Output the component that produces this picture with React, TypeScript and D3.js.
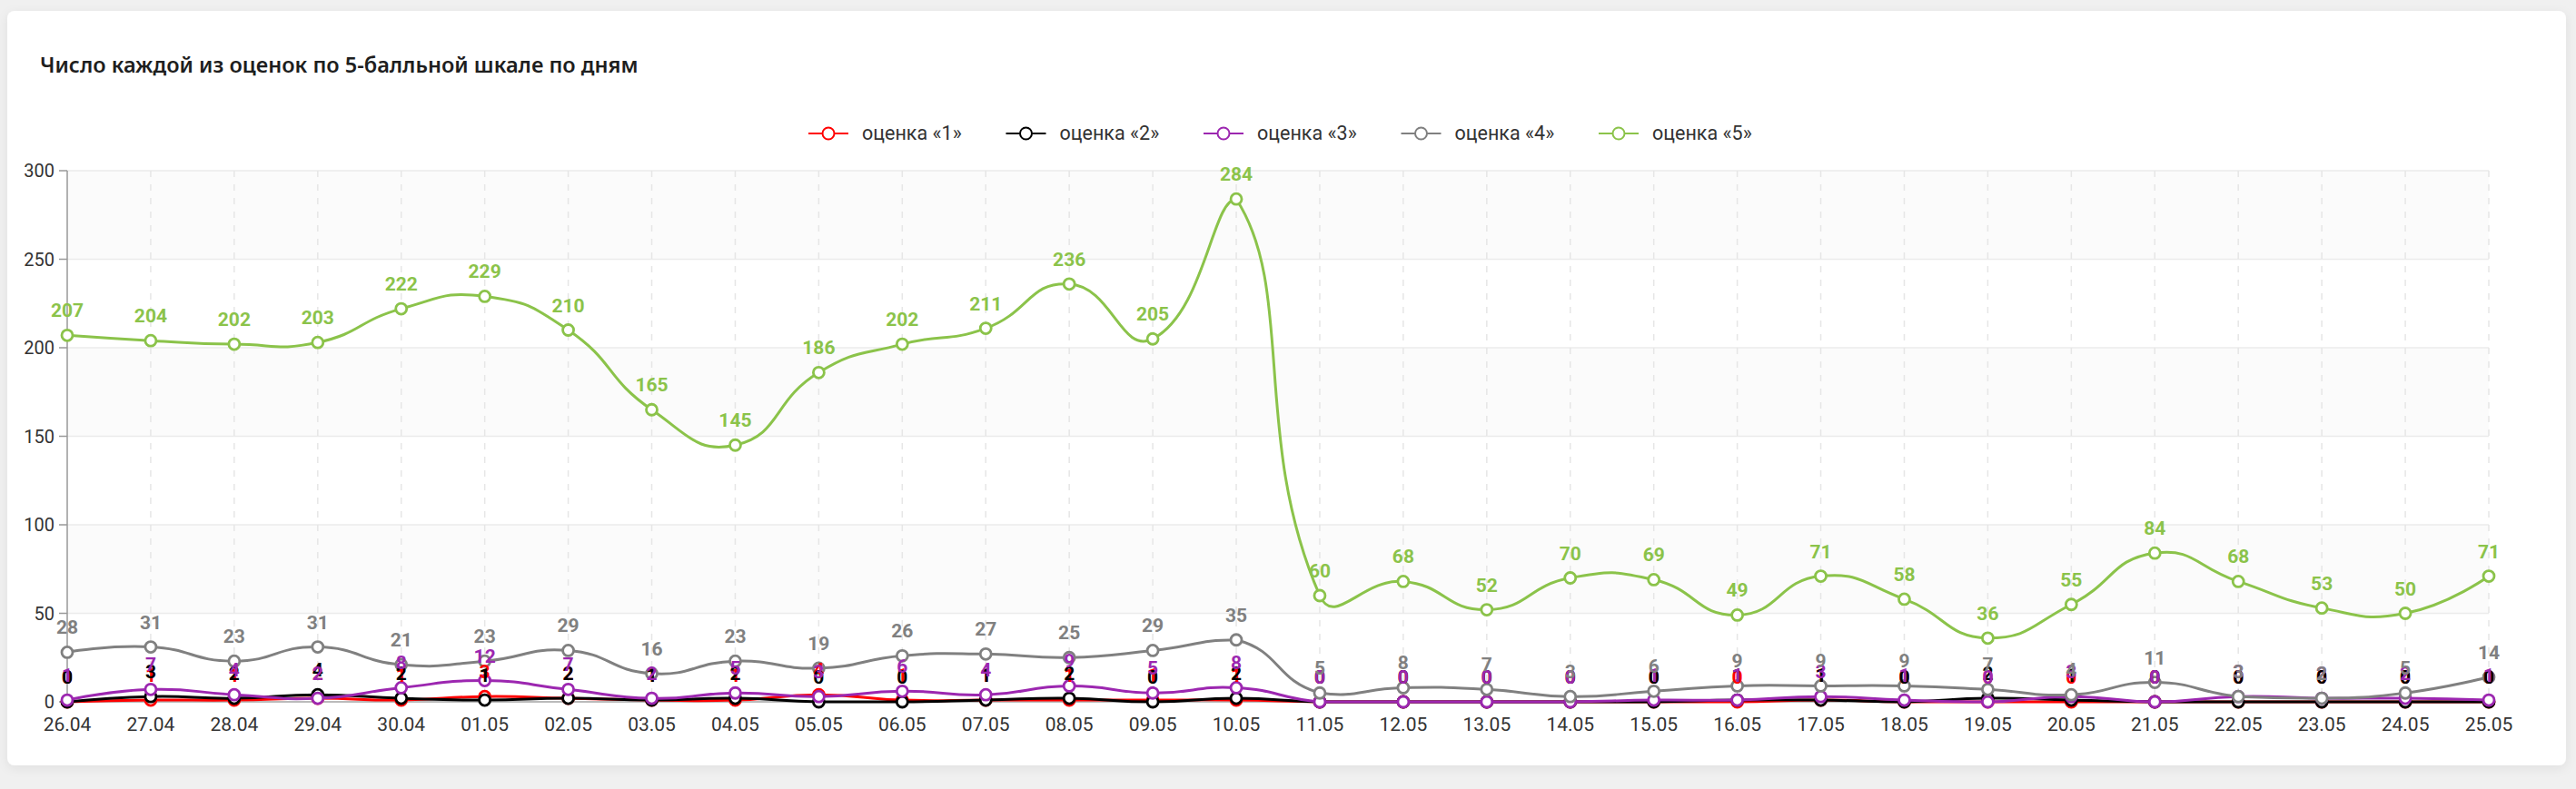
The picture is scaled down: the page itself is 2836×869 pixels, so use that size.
import React from 'react';
import * as d3 from 'd3';

const dates = ['26.04','27.04','28.04','29.04','30.04','01.05','02.05','03.05','04.05','05.05','06.05','07.05','08.05','09.05','10.05','11.05','12.05','13.05','14.05','15.05','16.05','17.05','18.05','19.05','20.05','21.05','22.05','23.05','24.05','25.05'];

const grade1 = [0,1,1,2,1,3,2,1,1,4,1,1,1,1,1,0,0,0,0,0,0,1,0,0,0,0,0,0,0,0];
const grade2 = [0,3,2,4,2,1,2,1,2,0,0,1,2,0,2,0,0,0,0,0,1,1,0,2,1,0,0,0,0,0];
const grade3 = [1,7,4,2,8,12,7,2,5,3,6,4,9,5,8,0,0,0,0,1,1,3,1,0,3,0,3,2,2,1];
const grade4 = [28,31,23,31,21,23,29,16,23,19,26,27,25,29,35,5,8,7,3,6,9,9,9,7,4,11,3,2,5,14];
const grade5 = [207,204,202,203,222,229,210,165,145,186,202,211,236,205,284,60,68,52,70,69,49,71,58,36,55,84,68,53,50,71];

const seriesNames = ['оценка «1»','оценка «2»','оценка «3»','оценка «4»','оценка «5»'];
const seriesColors = ['#ff0000','#000000','#9c27b0','#808080','#8bc34a'];
const seriesValues = [grade1, grade2, grade3, grade4, grade5];

const yTicks = [0, 50, 100, 150, 200, 250, 300];
const titleText = 'Число каждой из оценок по 5-балльной шкале по дням';

type Pt = [number, number];

// ECharts-4 style smooth polyline (smooth = 0.5, global bbox constraint)
function smoothPath(points: Pt[], smooth = 0.5): string {
  if (points.length < 2) return '';
  const minX = d3.min(points, p => p[0])!, maxX = d3.max(points, p => p[0])!;
  const minY = d3.min(points, p => p[1])!, maxY = d3.max(points, p => p[1])!;
  const clamp = (c: Pt): Pt => [Math.max(minX, Math.min(maxX, c[0])), Math.max(minY, Math.min(maxY, c[1]))];
  let d = `M${points[0][0]},${points[0][1]}`;
  let cp0: Pt = [points[0][0], points[0][1]];
  for (let i = 1; i < points.length; i++) {
    const p = points[i];
    const prev = points[i - 1];
    const next = points[i + 1];
    let v: Pt = [0, 0];
    let ratio = 0.5;
    let nextCp0: Pt;
    if (!next) {
      nextCp0 = [p[0], p[1]];
    } else {
      v = [next[0] - prev[0], next[1] - prev[1]];
      const lp = Math.hypot(p[0] - prev[0], p[1] - prev[1]);
      const ln = Math.hypot(next[0] - p[0], next[1] - p[1]);
      ratio = ln + lp === 0 ? 0.5 : ln / (ln + lp);
      nextCp0 = [p[0] - v[0] * smooth * (1 - ratio), p[1] - v[1] * smooth * (1 - ratio)];
    }
    const c0 = clamp(cp0);
    const c1 = clamp(nextCp0);
    d += `C${c0[0]},${c0[1]},${c1[0]},${c1[1]},${p[0]},${p[1]}`;
    cp0 = [p[0] + v[0] * smooth * ratio, p[1] + v[1] * smooth * ratio];
  }
  return d;
}

export default function App() {
  const W = 2836, H = 869;
  const left = 74, right = 2740, top = 188, bottom = 773;
  const x = d3.scalePoint<string>().domain(dates).range([left, right]);
  const y = d3.scaleLinear().domain([0, 300]).range([bottom, top]);
  const font = 'Roboto, "Noto Sans", sans-serif';

  const bands = yTicks.slice(0, -1).map((t, i) => ({ y0: t, y1: yTicks[i + 1], fill: i % 2 === 1 ? '#fbfbfb' : '#ffffff' }));

  return (
    <svg width={W} height={H} style={{ position: 'absolute', left: 0, top: 0 }} xmlns="http://www.w3.org/2000/svg">
      <defs>
        <filter id="cardShadow" x="-5%" y="-10%" width="110%" height="125%">
          <feDropShadow dx="0" dy="3" stdDeviation="6" floodColor="#000" floodOpacity="0.07" />
        </filter>
      </defs>
      <rect x={0} y={0} width={W} height={H} fill="#f0f0f0" />
      <rect x={8} y={12} width={2817} height={831} rx={8} fill="#ffffff" filter="url(#cardShadow)" />

      <text x={44} y={80} fontFamily='"Noto Sans", sans-serif' fontWeight={600} fontSize={23.5} fill="#1e1e1e">{titleText}</text>

      {/* legend */}
      {seriesNames.map((name, i) => {
        const cx = 912 + i * 217.5;
        return (
          <g key={name}>
            <line x1={cx - 22} x2={cx + 22} y1={147} y2={147} stroke={seriesColors[i]} strokeWidth={2} />
            <circle cx={cx} cy={147} r={6.5} fill="#fff" stroke={seriesColors[i]} strokeWidth={2} />
            <text x={cx + 37} y={154} fontFamily={font} fontSize={21.5} fill="#333">{name}</text>
          </g>
        );
      })}

      {/* split areas */}
      {bands.map((b, i) => (
        <rect key={i} x={left} y={y(b.y1)} width={right - left} height={y(b.y0) - y(b.y1)} fill={b.fill} />
      ))}

      {/* horizontal grid */}
      {yTicks.map(t => (
        <line key={t} x1={left} x2={right} y1={y(t)} y2={y(t)} stroke="#ebebeb" strokeWidth={1.5} />
      ))}
      {/* vertical dashed grid */}
      {dates.slice(1).map(dt => (
        <line key={dt} x1={x(dt)!} x2={x(dt)!} y1={top} y2={bottom} stroke="#e6e6e6" strokeWidth={1.5} strokeDasharray="7,8" />
      ))}

      {/* axes */}
      <line x1={left} x2={right} y1={bottom} y2={bottom} stroke="#aaaaaa" strokeWidth={1.5} />
      <line x1={left} x2={left} y1={top} y2={bottom} stroke="#999999" strokeWidth={1.5} />
      {yTicks.map(t => (
        <g key={t}>
          <line x1={left - 9} x2={left} y1={y(t)} y2={y(t)} stroke="#999999" strokeWidth={1.5} />
          <text x={left - 14} y={y(t) + 7} textAnchor="end" fontFamily={font} fontSize={20} fill="#333">{t}</text>
        </g>
      ))}
      {dates.map(dt => (
        <text key={dt} x={x(dt)!} y={805} textAnchor="middle" fontFamily={font} fontSize={21} fill="#333">{dt}</text>
      ))}

      {/* series lines and markers */}
      {seriesValues.map((vals, si) => {
        const pts: Pt[] = vals.map((v, i) => [x(dates[i])!, y(v)]);
        return (
          <g key={si}>
            <path d={smoothPath(pts)} fill="none" stroke={seriesColors[si]} strokeWidth={3} />
            {pts.map((p, i) => (
              <circle key={i} cx={p[0]} cy={p[1]} r={6} fill="#fff" stroke={seriesColors[si]} strokeWidth={2.8} />
            ))}
          </g>
        );
      })}

      {/* labels */}
      {seriesValues.map((vals, si) => (
        <g key={si}>
          {vals.map((v, i) => (
            <text key={i} x={x(dates[i])!} y={y(v) - 20} textAnchor="middle" fontFamily={font} fontWeight={700} fontSize={21} fill={seriesColors[si]}>{v}</text>
          ))}
        </g>
      ))}
    </svg>
  );
}
